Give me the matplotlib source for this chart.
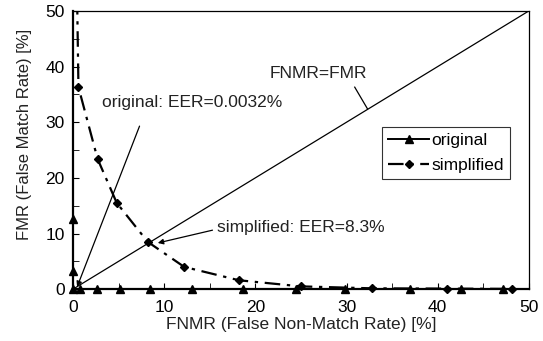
import matplotlib
matplotlib.use("Agg")
import matplotlib.pyplot as plt
from matplotlib.ticker import MultipleLocator

plt.rcParams['font.family'] = ['Liberation Sans', 'DejaVu Sans']

# original matcher: FNMR [%] vs FMR [%]
orig_fnmr = [0, 0, 0, 0, 0.8, 2.6, 5.2, 8.4, 13.0, 18.6, 24.5, 29.8, 37.0, 42.6, 47.2]
orig_fmr = [80, 12.6, 3.2, 0, 0, 0, 0, 0, 0, 0, 0, 0, 0, 0, 0]

# simplified matcher
simp_fnmr = [0.2, 0.6, 2.7, 4.8, 8.2, 12.2, 18.2, 25.0, 32.8, 41.0, 48.2]
simp_fmr = [80, 36.3, 23.4, 15.5, 8.5, 4.0, 1.6, 0.5, 0.15, 0.1, 0.05]

fig = plt.figure(figsize=(5.43, 3.41), dpi=100)
ax = fig.add_axes([0.1344, 0.152, 0.8396, 0.816])

simp_ls = (0, (7, 3, 1.5, 3))
ax.plot([0, 50], [0, 50], color='black', lw=0.9)
ax.plot(orig_fnmr, orig_fmr, color='black', lw=1.4)
ax.plot(simp_fnmr, simp_fmr, color='black', lw=1.6, linestyle=simp_ls)

# markers drawn unclipped, only for points inside the range
oi = [i for i, v in enumerate(orig_fmr) if v <= 50]
si = [i for i, v in enumerate(simp_fmr) if v <= 50]
ax.plot([orig_fnmr[i] for i in oi], [orig_fmr[i] for i in oi], ls='none',
        color='black', marker='^', ms=6, clip_on=False, zorder=4)
ax.plot([simp_fnmr[i] for i in si], [simp_fmr[i] for i in si], ls='none',
        color='black', marker='D', ms=4.5, clip_on=False, zorder=4)

ax.set_xlim(0, 50)
ax.set_ylim(0, 50)
ax.xaxis.set_major_locator(MultipleLocator(10))
ax.yaxis.set_major_locator(MultipleLocator(10))
ax.xaxis.set_minor_locator(MultipleLocator(5))
ax.yaxis.set_minor_locator(MultipleLocator(5))
ax.tick_params(which='both', direction='in', top=False, right=False,
               labelsize=12.5, colors='black', length=4)
ax.tick_params(axis='x', pad=8)
ax.tick_params(axis='y', pad=6)
for s in ax.spines.values():
    s.set_linewidth(0.9)
ax.spines['bottom'].set_linewidth(1.6)
ax.spines['left'].set_linewidth(1.6)

ax.set_xlabel('FNMR (False Non-Match Rate) [%]', fontsize=12.5, color='#222222', labelpad=1)
ax.set_ylabel('FMR (False Match Rate) [%]', fontsize=12, color='#222222')
ax.yaxis.set_label_coords(-0.09, 0.557)

ax.text(26.9, 38.8, 'FNMR=FMR', fontsize=12.5, ha='center', va='center', color='#222222')
ax.plot([30.9, 32.3], [36.3, 32.4], color='black', lw=0.9)

ax.text(3.2, 33.5, 'original: EER=0.0032%', fontsize=12.5, color='#222222',
        va='center', ha='left')
ax.annotate('', xy=(0.45, 0.4), xytext=(7.3, 29.3),
            arrowprops=dict(arrowstyle='-|>', color='black', lw=0.9,
                            shrinkA=0, shrinkB=0, mutation_scale=8))
ax.text(15.8, 11.0, 'simplified: EER=8.3%', fontsize=12.5, color='#222222',
        va='center', ha='left')
ax.annotate('', xy=(9.3, 8.3), xytext=(15.3, 10.6),
            arrowprops=dict(arrowstyle='-|>', color='black', lw=0.9,
                            shrinkA=0, shrinkB=0, mutation_scale=8))

# legend proxies
ax.plot([], [], color='black', lw=1.4, marker='^', ms=6, label='original')
ax.plot([], [], color='black', lw=1.6, marker='D', ms=4.5, linestyle=simp_ls,
        label='simplified')
h, l = ax.get_legend_handles_labels()
leg = ax.legend(h, l, loc='upper left', bbox_to_anchor=(0.677, 0.582), fontsize=12.5,
                frameon=True, fancybox=False, edgecolor='black',
                handlelength=2.4, handletextpad=0.1, borderpad=0.35,
                labelspacing=0.55, borderaxespad=0)
leg.get_frame().set_linewidth(0.8)

fig.savefig('out.png', dpi=100)
